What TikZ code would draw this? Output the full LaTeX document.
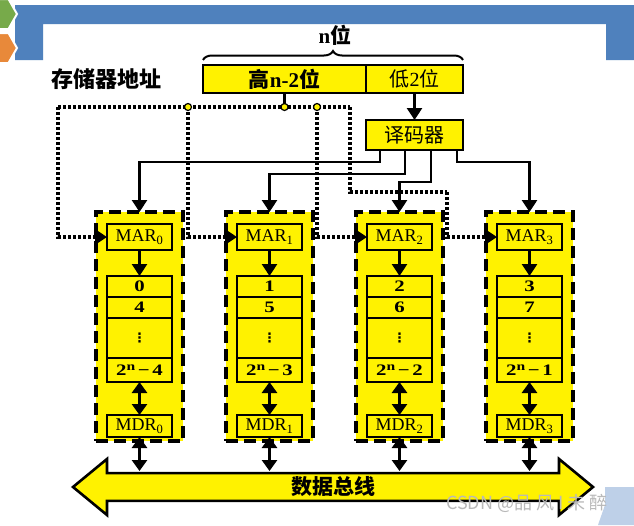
\documentclass[tikz,border=0pt]{standalone}
\usepackage{fontspec}
\setmainfont{Liberation Serif}
\newfontfamily\cjk{Noto Sans CJK SC}
\newfontfamily\symfont{DejaVu Sans}
\newfontfamily\cellfont[FakeStretch=1.3]{Liberation Serif}
\usepackage{xcolor}
\usetikzlibrary{arrows.meta, positioning, calc, shapes.arrows, decorations.pathreplacing}

\definecolor{memYellow}{RGB}{255,242,0}
\definecolor{slideBlue}{RGB}{79,129,189}
\definecolor{paleBlue}{RGB}{190,208,232}
\definecolor{hexGreen}{RGB}{119,170,74}
\definecolor{hexOrange}{RGB}{232,137,58}

\newcommand{\powtwo}[1]{2\raisebox{5pt}{\fontsize{12}{12}\selectfont n}\,−\,#1}

\begin{document}
\begin{tikzpicture}[
    x=1pt, y=-1pt,
    % 样式
    reg_box/.style={
        draw, fill=memYellow, line width=2.4pt, inner sep=0pt, outer sep=0pt, align=center
    },
    cjk_text/.style={font=\cjk\fontsize{20}{20}\selectfont},
    module_frame/.style={
        draw, fill=memYellow, line width=3.6pt, dash pattern=on 12pt off 6pt,
        minimum width=87pt, minimum height=229pt, inner sep=0pt, outer sep=0pt
    },
    mar_box/.style={
        reg_box, minimum width=65pt, minimum height=26pt, font=\fontsize{18}{18}\selectfont
    },
    cell/.style={
        reg_box, minimum width=65pt, font=\cellfont\bfseries\fontsize{16}{16}\selectfont
    },
    junction/.style={
        circle, draw, fill=memYellow, line width=1.2pt, inner sep=0pt, minimum size=7pt
    },
    dec_flow/.style={
        -{Triangle[length=12pt, width=15pt]}, line width=2.8pt
    },
    addr_flow/.style={
        line width=3.4pt, dash pattern=on 2.6pt off 2.4pt
    },
    addr_arrow/.style={
        addr_flow, -{Triangle[length=12pt, width=15pt]}
    },
    bidir/.style={
        {Triangle[length=11pt, width=15pt]}-{Triangle[length=11pt, width=15pt]}, line width=3pt
    },
    data_bus/.style={
        double arrow, draw, fill=memYellow, line width=2.6pt, inner sep=0pt,
        minimum height=520pt, minimum width=56pt,
        double arrow head extend=11.5pt, double arrow tip angle=79,
        font=\cjk\bfseries\fontsize{21}{21}\selectfont
    }
]

    % --- 0. SLIDE BACKGROUND ---
    \useasboundingbox (0,0) rectangle (634,525);
    \clip (0,0) rectangle (634,525);
    \fill[white] (0,0) rectangle (634,525);
    \fill[slideBlue] (15,5) -- (634,5) -- (634,60) -- (606,60) -- (606,24) -- (43,24) -- (43,60) -- (15,60) -- cycle;
    \filldraw[fill=hexGreen, draw=white, line width=2pt] (17,14) -- (8.5,29) -- (-8.5,29) -- (-17,14) -- (-8.5,-1) -- (8.5,-1) -- cycle;
    \filldraw[fill=hexOrange, draw=white, line width=2pt] (17,48) -- (8.5,63) -- (-8.5,63) -- (-17,48) -- (-8.5,33) -- (8.5,33) -- cycle;
    \fill[paleBlue] (605,487) -- (634,487) -- (634,525) -- (598,525) -- (605,505) -- cycle;

    % --- 1. ADDRESS REGISTER (Top) ---
    \node[reg_box, minimum width=163pt, minimum height=28pt, font=\cjk\bfseries\fontsize{21}{21}\selectfont] (addr_high) at (284.5,79) {高{\rmfamily\bfseries n-2}位};
    \node[reg_box, right=0pt of addr_high, minimum width=97pt, minimum height=28pt, cjk_text] (addr_low) {低{\rmfamily 2}位};
    \draw[line width=2pt, decorate, decoration={brace, amplitude=9pt}]
        ([yshift=5pt]addr_high.north west) -- ([yshift=5pt]addr_low.north east);
    \node[font=\cjk\bfseries\fontsize{21}{21}\selectfont] (n_label) at (335,35) {{\rmfamily\bfseries n}位};
    \node[font=\cjk\bfseries\fontsize{22}{22}\selectfont] (addr_label) at (106,79) {存储器地址};

    % Decoder
    \node[reg_box, minimum width=97pt, minimum height=30pt, cjk_text] (decoder) at (414.5,135) {译码器};
    \draw[dec_flow] (addr_low.south) -- (decoder.north);

    % --- 2. MEMORY MODULES ---
    % module 0
    \node[module_frame] (module0) at (139.5,326.5) {};
    \node[mar_box] (mar0) at (139.5,237) {MAR\textsubscript{0}};
    \node[cell, minimum height=21pt] (mem0_a) at (139.5,286.5) {0};
    \node[cell, minimum height=21pt, below=0pt of mem0_a] (mem0_b) {4};
    \node[cell, minimum height=40pt, below=0pt of mem0_b] (mem0_c) {\symfont\fontsize{13}{13}\selectfont ⋮};
    \node[cell, minimum height=24pt, below=0pt of mem0_c] (mem0_d) {\powtwo{4}};
    \node[mar_box, minimum height=22pt] (mdr0) at (139.5,426) {MDR\textsubscript{0}};

    % module 1
    \node[module_frame] (module1) at (269.5,326.5) {};
    \node[mar_box] (mar1) at (269.5,237) {MAR\textsubscript{1}};
    \node[cell, minimum height=21pt] (mem1_a) at (269.5,286.5) {1};
    \node[cell, minimum height=21pt, below=0pt of mem1_a] (mem1_b) {5};
    \node[cell, minimum height=40pt, below=0pt of mem1_b] (mem1_c) {\symfont\fontsize{13}{13}\selectfont ⋮};
    \node[cell, minimum height=24pt, below=0pt of mem1_c] (mem1_d) {\powtwo{3}};
    \node[mar_box, minimum height=22pt] (mdr1) at (269.5,426) {MDR\textsubscript{1}};

    % module 2
    \node[module_frame] (module2) at (399.5,326.5) {};
    \node[mar_box] (mar2) at (399.5,237) {MAR\textsubscript{2}};
    \node[cell, minimum height=21pt] (mem2_a) at (399.5,286.5) {2};
    \node[cell, minimum height=21pt, below=0pt of mem2_a] (mem2_b) {6};
    \node[cell, minimum height=40pt, below=0pt of mem2_b] (mem2_c) {\symfont\fontsize{13}{13}\selectfont ⋮};
    \node[cell, minimum height=24pt, below=0pt of mem2_c] (mem2_d) {\powtwo{2}};
    \node[mar_box, minimum height=22pt] (mdr2) at (399.5,426) {MDR\textsubscript{2}};

    % module 3
    \node[module_frame] (module3) at (529.5,326.5) {};
    \node[mar_box] (mar3) at (529.5,237) {MAR\textsubscript{3}};
    \node[cell, minimum height=21pt] (mem3_a) at (529.5,286.5) {3};
    \node[cell, minimum height=21pt, below=0pt of mem3_a] (mem3_b) {7};
    \node[cell, minimum height=40pt, below=0pt of mem3_b] (mem3_c) {\symfont\fontsize{13}{13}\selectfont ⋮};
    \node[cell, minimum height=24pt, below=0pt of mem3_c] (mem3_d) {\powtwo{1}};
    \node[mar_box, minimum height=22pt] (mdr3) at (529.5,426) {MDR\textsubscript{3}};

    % Inner flows
    \draw[dec_flow] (mar0) -- (mem0_a);
    \draw[dec_flow] (mar1) -- (mem1_a);
    \draw[dec_flow] (mar2) -- (mem2_a);
    \draw[dec_flow] (mar3) -- (mem3_a);
    \draw[bidir] (mem0_d) -- (mdr0);
    \draw[bidir] (mem1_d) -- (mdr1);
    \draw[bidir] (mem2_d) -- (mdr2);
    \draw[bidir] (mem3_d) -- (mdr3);

    % Decoder outputs
    \coordinate (dec_out0) at ([xshift=14pt]decoder.south west);
    \coordinate (dec_out1) at ([xshift=39pt]decoder.south west);
    \coordinate (dec_out2) at ([xshift=65pt]decoder.south west);
    \coordinate (dec_out3) at ([xshift=91pt]decoder.south west);
    \draw[dec_flow] (dec_out0) -- ++(0,12) -| (module0.north);
    \draw[dec_flow] (dec_out1) -- ++(0,24) -| (module1.north);
    \draw[dec_flow] (dec_out2) -- ++(0,32) -| (module2.north);
    \draw[dec_flow] (dec_out3) -- ++(0,12) -| (module3.north);

    % High address bits to every MAR
    \coordinate (addr_left) at (58,107);
    \coordinate (addr_right) at (350,107);
    \coordinate (addr_turn) at (447,192);
    \coordinate (tap_high) at (284.5,107);
    \coordinate (tap_a) at (188,107);
    \coordinate (tap_c) at (317,107);
    \draw[addr_flow] (addr_left) -- (addr_right);
    \draw[addr_arrow] (addr_left) |- (mar0.west);
    \draw[addr_arrow] (tap_a) |- (mar1.west);
    \draw[addr_arrow] (tap_c) |- (mar2.west);
    \draw[addr_flow] (addr_right) |- (addr_turn);
    \draw[addr_arrow] (addr_turn) |- (mar3.west);
    \draw[line width=2.4pt] (addr_high.south) -- (tap_high);
    \node[junction] (dot_high) at (tap_high) {};
    \node[junction] (dot_a) at (tap_a) {};
    \node[junction] (dot_c) at (tap_c) {};

    % --- 3. DATA BUS (Bottom) ---
    \node[data_bus] (data_bus) at (333,487) {数据总线};
    \coordinate (bus_top) at (333,471);
    \draw[bidir] (mdr0.south) -- (mdr0.south |- bus_top);
    \draw[bidir] (mdr1.south) -- (mdr1.south |- bus_top);
    \draw[bidir] (mdr2.south) -- (mdr2.south |- bus_top);
    \draw[bidir] (mdr3.south) -- (mdr3.south |- bus_top);

    \node[font=\cjk\fontsize{18}{18}\selectfont, text=gray!55] (csdn_mark) at (527,503) {CSDN @品 风 I 未 醉};

\end{tikzpicture}
\end{document}
